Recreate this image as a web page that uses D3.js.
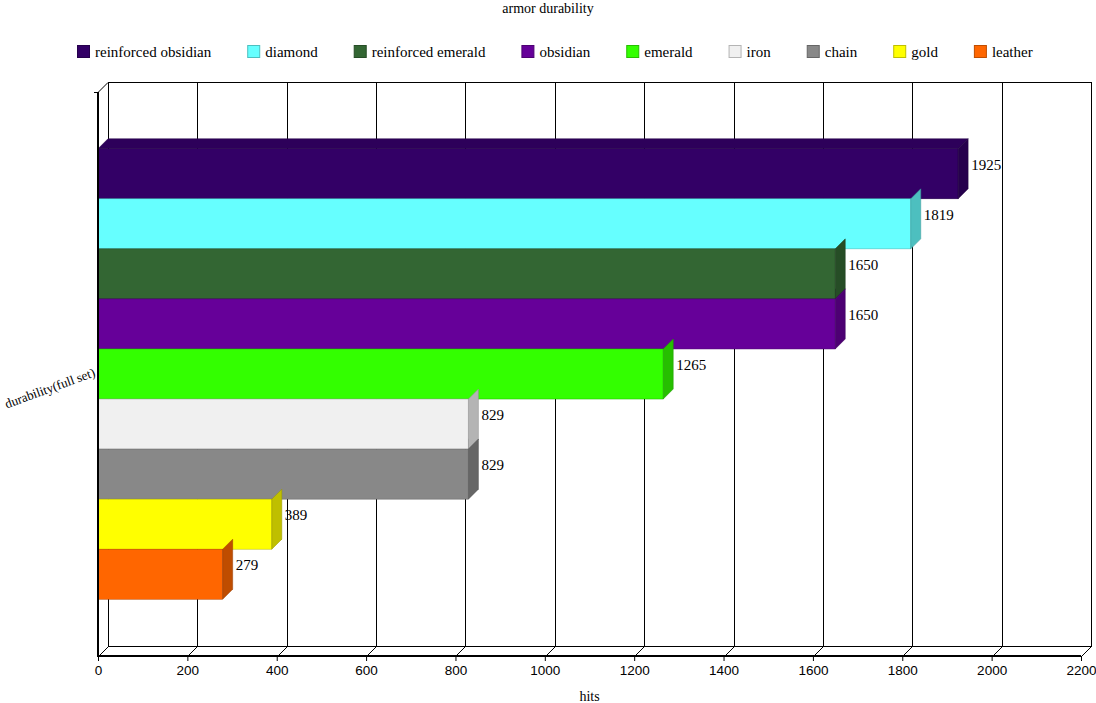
<!DOCTYPE html>
<html lang="en">
<head>
<meta charset="utf-8">
<script src="https://d3js.org/d3.v7.min.js"></script>
<title>armor durability</title>
<style>
	body { margin: 0; background: #fff; }
	svg { display: block; }
</style>
</head>
<body>
<script type="text/javascript">
	// data
	var categories = ["durability(full set)"];
	var series = ["reinforced obsidian", "diamond", "reinforced emerald", "obsidian", "emerald", "iron", "chain", "gold", "leather"];
	var values = [1925, 1819, 1650, 1650, 1265, 829, 829, 389, 279];
	var colors = ["#330066", "#66ffff", "#336633", "#660099", "#33ff00", "#f0f0f0", "#888888", "#ffff00", "#ff6600"];
	var ticks = [0, 200, 400, 600, 800, 1000, 1200, 1400, 1600, 1800, 2000, 2200];

	var width = 1096, height = 703;
	var depth = 10; // 3d offset

	var svg = d3.select("body").append("svg")
		.attr("width", width)
		.attr("height", height);

	// scales (front plane)
	var x = d3.scaleLinear().domain([0, 2200]).range([98, 1081]);
	var y0 = d3.scaleBand().domain(categories).range([92, 656]).paddingOuter(0.126).paddingInner(0);
	var y1 = d3.scaleBand().domain(series).range([0, y0.bandwidth()]);

	function shade(c, k) {
		var r = d3.rgb(c);
		return d3.rgb(r.r * k, r.g * k, r.b * k).formatHex();
	}

	// back wall + grid
	var wall = svg.append("g").attr("fill", "none").attr("stroke", "#000").attr("stroke-width", 1);
	var wallTop = 92 - depth, wallBot = 656 - depth;
	wall.selectAll("line.grid")
		.data(ticks)
		.enter().append("line")
		.attr("x1", function(d) { return Math.round(x(d) + depth) + 0.5; })
		.attr("x2", function(d) { return Math.round(x(d) + depth) + 0.5; })
		.attr("y1", wallTop + 0.5)
		.attr("y2", wallBot + 0.5);
	wall.append("line").attr("x1", x(0) + depth).attr("x2", x(2200) + depth + 1).attr("y1", wallTop + 0.5).attr("y2", wallTop + 0.5);
	wall.append("line").attr("x1", x(0) + depth).attr("x2", x(2200) + depth + 1).attr("y1", wallBot + 0.5).attr("y2", wallBot + 0.5);
	// floor diagonals
	wall.selectAll("line.diag")
		.data(ticks)
		.enter().append("line")
		.attr("x1", function(d) { return Math.round(x(d)) + 0.5; })
		.attr("y1", 656.5)
		.attr("x2", function(d) { return Math.round(x(d) + depth) + 0.5; })
		.attr("y2", wallBot + 0.5);
	wall.append("line").attr("x1", x(0)).attr("y1", 92.5).attr("x2", x(0) + depth).attr("y2", wallTop + 0.5);

	var barData = series.map(function(s, i) { return { name: s, value: values[i], color: colors[i] }; });
	var yStart = y0(categories[0]);

	// top faces first, so only the top one stays visible
	svg.append("g").selectAll("path")
		.data(barData)
		.enter().append("path")
		.attr("d", function(d) {
			var yt = yStart + y1(d.name);
			return "M" + x(0) + "," + yt + "L" + (x(0) + depth) + "," + (yt - depth) +
				"L" + (x(d.value) + depth) + "," + (yt - depth) + "L" + x(d.value) + "," + yt + "Z";
		})
		.attr("fill", function(d) { return shade(d.color, 0.88); })
		.attr("stroke", function(d) { return shade(d.color, 0.7); })
		.attr("stroke-width", 0.5);

	var bars = svg.append("g").selectAll("g")
		.data(barData)
		.enter().append("g");

	bars.append("rect")
		.attr("x", x(0))
		.attr("y", function(d) { return yStart + y1(d.name); })
		.attr("width", function(d) { return x(d.value) - x(0); })
		.attr("height", y1.bandwidth())
		.attr("fill", function(d) { return d.color; })
		.attr("stroke", function(d) { return shade(d.color, 0.7); })
		.attr("stroke-width", 0.5);

	bars.append("path")
		.attr("d", function(d) {
			var yt = yStart + y1(d.name), yb = yt + y1.bandwidth(), xe = x(d.value);
			return "M" + xe + "," + yt + "L" + (xe + depth) + "," + (yt - depth) +
				"L" + (xe + depth) + "," + (yb - depth) + "L" + xe + "," + yb + "Z";
		})
		.attr("fill", function(d) { return shade(d.color, 0.75); })
		.attr("stroke", function(d) { return shade(d.color, 0.6); })
		.attr("stroke-width", 0.5);

	bars.append("text")
		.attr("x", function(d) { return x(d.value) + depth + 3; })
		.attr("y", function(d) { return yStart + y1(d.name) + 21; })
		.style("font-family", "'Liberation Serif', serif")
		.style("font-size", "15px")
		.text(function(d) { return d.value; });

	// front axes
	svg.append("line").attr("x1", 98).attr("x2", 98).attr("y1", 92).attr("y2", 657)
		.attr("stroke", "#000").attr("stroke-width", 2);
	svg.append("line").attr("x1", 94).attr("x2", 98).attr("y1", 92.5).attr("y2", 92.5)
		.attr("stroke", "#000").attr("stroke-width", 1);
	svg.append("line").attr("x1", 97).attr("x2", x(2200)).attr("y1", 656).attr("y2", 656)
		.attr("stroke", "#000").attr("stroke-width", 2);

	var xAxis = svg.append("g")
		.attr("transform", "translate(0,656)")
		.call(d3.axisBottom(x).tickValues(ticks).tickSize(5).tickSizeOuter(0).tickFormat(d3.format("d")));
	xAxis.select(".domain").remove();
	xAxis.selectAll("text")
		.attr("y", 9)
		.style("font-family", "'Liberation Sans', Arial, sans-serif")
		.style("font-size", "13.5px")
		.attr("fill", "#000");

	// y category label
	svg.append("text")
		.attr("transform", "translate(96," + (y0(categories[0]) + y0.bandwidth() / 2 + 2) + ") rotate(-20)")
		.attr("text-anchor", "end")
		.style("font-family", "'Liberation Serif', serif")
		.style("font-size", "13px")
		.text(categories[0]);

	// titles
	svg.append("text")
		.attr("x", 548).attr("y", 13)
		.attr("text-anchor", "middle")
		.style("font-family", "'Liberation Serif', serif")
		.style("font-size", "14px")
		.text("armor durability");

	svg.append("text")
		.attr("x", (x(0) + x(2200)) / 2).attr("y", 701)
		.attr("text-anchor", "middle")
		.style("font-family", "'Liberation Serif', serif")
		.style("font-size", "14px")
		.text("hits");

	// legend
	var legend = svg.append("g");
	var lx = 77;
	series.forEach(function(s, i) {
		legend.append("rect")
			.attr("x", lx + 0.5).attr("y", 45.5)
			.attr("width", 12).attr("height", 12)
			.attr("fill", colors[i])
			.attr("stroke", shade(colors[i], 0.75));
		var t = legend.append("text")
			.attr("x", lx + 18).attr("y", 57)
			.style("font-family", "'Liberation Serif', serif")
			.style("font-size", "15px")
			.text(s);
		lx = lx + 18 + t.node().getComputedTextLength() + 36;
	});
</script>
</body>
</html>
